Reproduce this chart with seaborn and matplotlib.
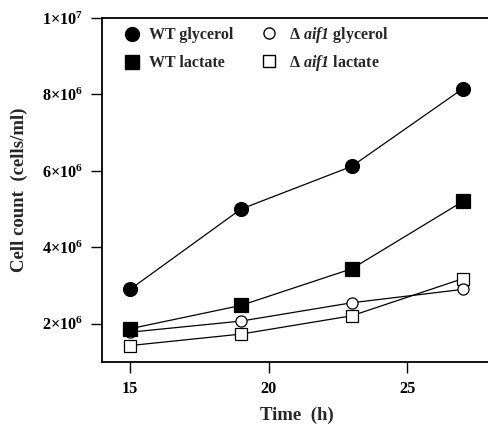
import matplotlib
matplotlib.use("Agg")
import matplotlib.pyplot as plt
import seaborn as sns
from matplotlib.lines import Line2D

# data
time_h = [15, 19, 23, 27]
wt_glycerol = [2.90e6, 5.00e6, 6.12e6, 8.15e6]
wt_lactate = [1.87e6, 2.48e6, 3.44e6, 5.20e6]
aif1_glycerol = [1.78e6, 2.07e6, 2.55e6, 2.90e6]
aif1_lactate = [1.43e6, 1.73e6, 2.21e6, 3.18e6]

ytick_vals = [2e6, 4e6, 6e6, 8e6, 1e7]
ytick_labels = ["2×10$^{6}$", "4×10$^{6}$", "6×10$^{6}$", "8×10$^{6}$", "1×10$^{7}$"]
xtick_vals = [15, 20, 25]

sns.set_style("ticks")
plt.rcParams['font.family'] = ['Liberation Serif', 'DejaVu Serif']
plt.rcParams['font.weight'] = 'bold'
plt.rcParams['mathtext.fontset'] = 'custom'
plt.rcParams['mathtext.rm'] = 'Liberation Serif:bold'
plt.rcParams['mathtext.it'] = 'Liberation Serif:italic:bold'
plt.rcParams['mathtext.bf'] = 'Liberation Serif:bold'
# sf slot used for the italic gene name (digits included)
plt.rcParams['mathtext.sf'] = 'Liberation Serif:italic:bold'

fig = plt.figure(figsize=(4.89, 4.25), dpi=100)
ax = fig.add_axes([102.3 / 489, 1 - 362 / 425, (490.5 - 102.3) / 489, (362 - 18) / 425])

# open symbols first so the filled ones sit on top
series = [
    (aif1_lactate, 's', 'white', 8),
    (aif1_glycerol, 'o', 'white', 8),
    (wt_lactate, 's', 'black', 10),
    (wt_glycerol, 'o', 'black', 10),
]
for vals, mk, fc, ms in series:
    sns.lineplot(x=time_h, y=vals, ax=ax, color='black', lw=0.9,
                 marker=mk, markersize=ms, markerfacecolor=fc,
                 markeredgecolor='black', markeredgewidth=0.9)

ax.set_xlim(14, 28)
ax.set_ylim(1e6, 1e7)
ax.set_xticks(xtick_vals)
ax.set_xticklabels([str(v) for v in xtick_vals])
ax.set_yticks(ytick_vals)
ax.set_yticklabels(ytick_labels)
ax.tick_params(direction='out', length=8, width=1.0, labelsize=11.7, pad=6, colors='black')

for s in ['left', 'bottom', 'top']:
    ax.spines[s].set_linewidth(1.3)
    ax.spines[s].set_color('black')
ax.spines['right'].set_visible(False)

ax.set_xlabel("Time  (h)", fontsize=13.5, fontweight='bold', labelpad=7)
ax.set_ylabel("Cell count  (cells/ml)", fontsize=13.5, fontweight='bold', labelpad=10)

# legend in two separate columns so the rows line up
h_wt = [
    Line2D([], [], ls='none', marker='o', ms=10, mfc='black', mec='black'),
    Line2D([], [], ls='none', marker='s', ms=10, mfc='black', mec='black'),
]
h_aif = [
    Line2D([], [], ls='none', marker='o', ms=8, mfc='white', mec='black'),
    Line2D([], [], ls='none', marker='s', ms=8, mfc='white', mec='black'),
]
lab_wt = ["WT glycerol", "WT lactate"]
lab_aif = ["Δ $\\mathsf{aif1}$ glycerol", "Δ $\\mathsf{aif1}$ lactate"]
leg1 = ax.legend(h_wt, lab_wt, frameon=False, loc='upper left',
                 bbox_to_anchor=(0.02, 1.015), fontsize=11.5, handlelength=1.0,
                 handletextpad=0.55, labelspacing=0.75)
ax.add_artist(leg1)
ax.legend(h_aif, lab_aif, frameon=False, loc='upper left',
          bbox_to_anchor=(0.372, 1.022), fontsize=11.5, handlelength=1.0,
          handletextpad=0.75, labelspacing=0.5)

fig.savefig("out.png", dpi=100)
